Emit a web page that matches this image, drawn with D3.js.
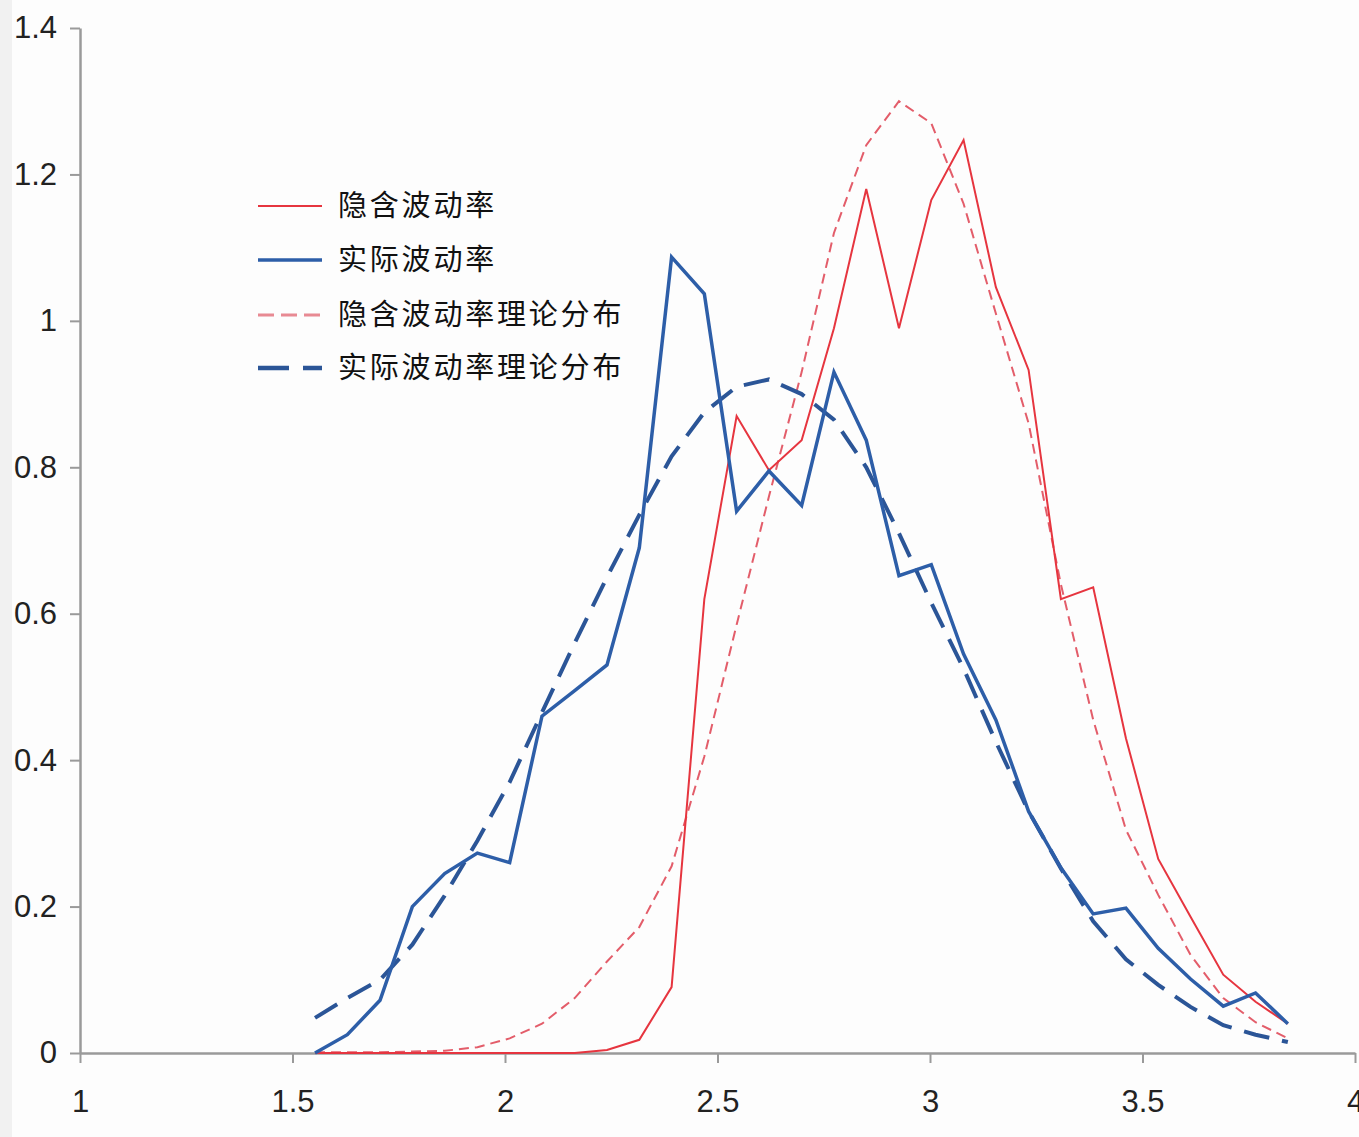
<!DOCTYPE html>
<html>
<head>
<meta charset="utf-8">
<script src="https://cdn.jsdelivr.net/npm/d3@7"></script>
<style>
  html, body { margin: 0; padding: 0; background: #fdfdfd; }
  svg { display: block; }
</style>
</head>
<body>
<div id="chart"></div>
<script>
// bin centres on the x axis
const xVals = [1.553, 1.629, 1.706, 1.782, 1.858, 1.935, 2.011, 2.087, 2.164, 2.240,
               2.316, 2.392, 2.469, 2.545, 2.621, 2.698, 2.774, 2.850, 2.927, 3.003,
               3.079, 3.155, 3.232, 3.308, 3.384, 3.461, 3.537, 3.613, 3.690, 3.766, 3.842];

// 隐含波动率 (implied)
const impliedVals = [0, 0, 0, 0, 0, 0, 0, 0, 0, 0.004,
                     0.018, 0.09, 0.62, 0.87, 0.796, 0.837, 0.99, 1.18, 0.99, 1.165,
                     1.247, 1.046, 0.933, 0.62, 0.636, 0.43, 0.265, 0.186, 0.107, 0.07, 0.04];

// 实际波动率 (realized)
const realizedVals = [0, 0.025, 0.072, 0.20, 0.245, 0.273, 0.26, 0.46, 0.495, 0.53,
                      0.69, 1.087, 1.037, 0.74, 0.795, 0.748, 0.93, 0.837, 0.652, 0.667,
                      0.545, 0.455, 0.33, 0.253, 0.19, 0.198, 0.143, 0.101, 0.064, 0.082, 0.04];

// 隐含波动率理论分布
const impliedFit = [0.001, 0.001, 0.001, 0.002, 0.003, 0.008, 0.02, 0.04, 0.075, 0.125,
                    0.172, 0.255, 0.405, 0.585, 0.76, 0.93, 1.12, 1.24, 1.30, 1.27,
                    1.16, 1.01, 0.86, 0.64, 0.455, 0.305, 0.216, 0.134, 0.075, 0.042, 0.02];

// 实际波动率理论分布
const realizedFit = [0.048, 0.075, 0.10, 0.148, 0.215, 0.29, 0.37, 0.465, 0.56, 0.65,
                     0.735, 0.815, 0.875, 0.91, 0.92, 0.90, 0.865, 0.80, 0.71, 0.615,
                     0.525, 0.425, 0.33, 0.252, 0.18, 0.128, 0.093, 0.063, 0.038, 0.025, 0.015];

const xTicks = [1, 1.5, 2, 2.5, 3, 3.5, 4];
const yTicks = [0, 0.2, 0.4, 0.6, 0.8, 1, 1.2, 1.4];

const legendNames = ["隐含波动率", "实际波动率", "隐含波动率理论分布", "实际波动率理论分布"];

let width = 1359;
let height = 1137;

const svg = d3.select("#chart").append("svg")
    .attr("width", width)
    .attr("height", height);

// grey strip on the left edge
svg.append("rect").attr("x", 0).attr("y", 0).attr("width", 12).attr("height", height).attr("fill", "#f1f1f1");

const x = d3.scaleLinear().domain([1, 4]).range([80, 1355]);
const y = d3.scaleLinear().domain([0, 1.4]).range([1053, 28]);

const axisColor = "#9a9a9a";
const tickFont = "'Liberation Sans', Arial, sans-serif";

// y axis
const yAxis = svg.append("g")
    .attr("transform", "translate(80,0)")
    .call(d3.axisLeft(y).tickValues(yTicks).tickSize(10).tickSizeOuter(0).tickPadding(13)
          .tickFormat(d => d3.format("")(+d.toFixed(1))));
// x axis
const xAxis = svg.append("g")
    .attr("transform", "translate(0,1053)")
    .call(d3.axisBottom(x).tickValues(xTicks).tickSize(10).tickSizeOuter(0).tickPadding(27)
          .tickFormat(d => String(d)));

[xAxis, yAxis].forEach(a => {
    a.select(".domain").attr("stroke", axisColor).attr("stroke-width", 2.5);
    a.selectAll(".tick line").attr("stroke", axisColor).attr("stroke-width", 2);
    a.selectAll(".tick text")
        .attr("fill", "#222")
        .style("font-family", tickFont)
        .style("font-size", "31px");
});

const series = [
    { vals: impliedFit, color: "#e35d6a", w: 2, dash: "10,6" },
    { vals: realizedFit, color: "#2b5597", w: 4, dash: "26,13" },
    { vals: impliedVals, color: "#e6353f", w: 2, dash: null },
    { vals: realizedVals, color: "#2d5ea8", w: 3.5, dash: null }
];

const line = d3.line()
    .x(d => x(d[0]))
    .y(d => y(d[1]));

series.forEach(s => {
    svg.append("path")
        .datum(xVals.map((xv, i) => [xv, s.vals[i]]))
        .attr("d", line)
        .attr("fill", "none")
        .attr("stroke", s.color)
        .attr("stroke-width", s.w)
        .attr("stroke-linejoin", "miter")
        .attr("stroke-dasharray", s.dash);
});

// legend
const legendStyle = [
    { color: "#e6353f", w: 2, dash: null },
    { color: "#2d5ea8", w: 3.5, dash: null },
    { color: "#e88a93", w: 3, dash: "16,7" },
    { color: "#2b5597", w: 4.5, dash: "31,14" }
];
const legendY = [206, 260, 315, 368];

const legend = svg.append("g");
legendNames.forEach((name, i) => {
    legend.append("line")
        .attr("x1", 258).attr("x2", 322)
        .attr("y1", legendY[i]).attr("y2", legendY[i])
        .attr("stroke", legendStyle[i].color)
        .attr("stroke-width", legendStyle[i].w)
        .attr("stroke-dasharray", legendStyle[i].dash);
    legend.append("text")
        .attr("x", 338)
        .attr("y", legendY[i])
        .attr("dy", "0.36em")
        .attr("fill", "#111")
        .style("font-family", "'Noto Sans CJK SC', sans-serif")
        .style("font-size", "29px")
        .style("letter-spacing", "2.8px")
        .text(name);
});
</script>
</body>
</html>
